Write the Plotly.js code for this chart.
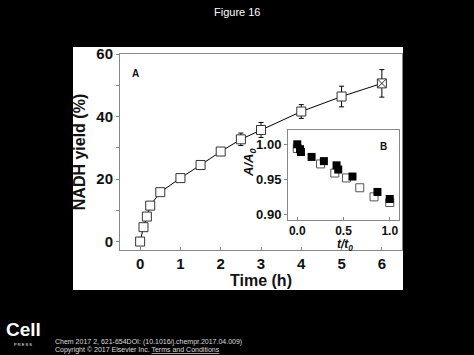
<!DOCTYPE html>
<html><head><meta charset="utf-8">
<script src="https://cdn.plot.ly/plotly-3.0.1.min.js"></script>
<style>html,body{margin:0;padding:0;background:#000;}#chart{width:474px;height:355px;}</style>
</head><body><div id="chart"></div>
<script>
// Main panel A: NADH yield vs time
const timeH   = [0, 0.083, 0.167, 0.25, 0.5, 1, 1.5, 2, 2.5, 3, 4, 5, 6];
const yieldPc = [0, 4.6, 8.0, 11.5, 15.8, 20.3, 24.5, 28.8, 32.7, 35.7, 41.6, 46.4, 50.6];
const yieldErr= [0, 1.0, 1.0, 0.6, 0.6, 0.8, 0.8, 1.0, 2.0, 2.4, 2.2, 3.3, 4.4];
// Inset B: A/A0 vs t/t0
const tFilled = [0.0, 0.03, 0.04, 0.155, 0.288, 0.425, 0.443, 0.597, 0.867, 1.0];
const aFilled = [1.000, 0.993, 0.989, 0.982, 0.976, 0.970, 0.964, 0.954, 0.932, 0.922];
const tOpen   = [0.0, 0.252, 0.406, 0.532, 0.676, 0.83, 1.0];
const aOpen   = [0.994, 0.972, 0.959, 0.952, 0.938, 0.925, 0.917];
const xTicksA = [0, 1, 2, 3, 4, 5, 6];
const yTicksA = [0, 20, 40, 60];
const xTicksB = [0.0, 0.5, 1.0];
const yTicksB = [0.90, 0.95, 1.00];

const FONT = 'Arial, "Liberation Sans", sans-serif';
// plot area pixels: x 120..402, y 54..250
const L = 120, R = 402, T = 54, B = 250;
const px = x => (x - L) / (R - L);
const py = y => (B - y) / (B - T);

const traces = [
  {x: timeH, y: yieldPc, type: 'scatter', mode: 'lines+markers',
   line: {color: '#000', width: 1},
   marker: {symbol: timeH.map((t,i)=> i===timeH.length-1 ? 'square-x' : 'square'),
            size: 9, color: '#fff', line: {width: 1, color: '#333'}},
   error_y: {type: 'data', array: yieldErr, visible: true, color: '#000', thickness: 1, width: 2.5},
   xaxis: 'x', yaxis: 'y', showlegend: false, cliponaxis: false},
  {x: tOpen, y: aOpen, type: 'scatter', mode: 'markers',
   marker: {symbol: 'square', size: 8, color: '#fff', line: {width: 1, color: '#555'}},
   xaxis: 'x2', yaxis: 'y2', showlegend: false, cliponaxis: false},
  {x: tFilled, y: aFilled, type: 'scatter', mode: 'markers',
   marker: {symbol: 'square', size: 8, color: '#000'},
   xaxis: 'x2', yaxis: 'y2', showlegend: false, cliponaxis: false}
];

const axCommon = {showline: true, mirror: true, linecolor: '#888', linewidth: 1,
  ticks: 'outside', ticklen: 3, tickcolor: '#888', showgrid: false, zeroline: false,
  tickfont: {family: FONT, size: 15, color: '#111', weight: 'bold'}};

const layout = {
  width: 474, height: 355,
  paper_bgcolor: '#000', plot_bgcolor: '#fff',
  margin: {l: L, r: 474 - R, t: T, b: 355 - B},
  font: {family: FONT},
  xaxis: Object.assign({}, axCommon, {range: [-0.5, 6.5], tickvals: xTicksA, ticktext: xTicksA.map(String),
    domain: [0, 1], anchor: 'y', ticks: 'inside',
    title: {text: '<b>Time (h)</b>', font: {family: FONT, size: 16, color: '#111'}, standoff: 3}}),
  yaxis: Object.assign({}, axCommon, {range: [-2.7, 60], tickvals: yTicksA, ticktext: yTicksA.map(String),
    domain: [0, 1], anchor: 'x',
    minor: {tickvals: [10, 30, 50], ticks: 'outside', ticklen: 3, tickcolor: '#888'},
    title: {text: '<b>NADH yield (%)</b>', font: {family: FONT, size: 16, color: '#111'}, standoff: 6}}),
  xaxis2: Object.assign({}, axCommon, {range: [-0.1, 1.1], tickvals: xTicksB, ticktext: ['0.0','0.5','1.0'],
    domain: [px(288), px(399)], anchor: 'y2', ticks: 'inside',
    tickfont: {family: FONT, size: 12, color: '#111', weight: 'bold'}}),
  yaxis2: Object.assign({}, axCommon, {range: [0.892, 1.0204], tickvals: yTicksB, ticktext: ['0.90','0.95','1.00'],
    domain: [py(220), py(130)], anchor: 'x2',
    tickfont: {family: FONT, size: 13, color: '#111', weight: 'bold'}}),
  shapes: [
    {type: 'rect', xref: 'paper', yref: 'paper', x0: px(73), x1: px(403), y0: py(290), y1: py(47),
     fillcolor: '#fff', line: {width: 0}, layer: 'below'}
  ],
  annotations: [
    {text: 'Figure 16', xref: 'paper', yref: 'paper', x: px(237), y: py(12), showarrow: false,
     font: {family: FONT, size: 11, color: '#fff'}, xanchor: 'center', yanchor: 'middle'},
    {text: '<b>A</b>', xref: 'paper', yref: 'paper', x: px(135), y: py(73), showarrow: false,
     font: {family: FONT, size: 10, color: '#111'}, xanchor: 'center', yanchor: 'middle'},
    {text: '<b>B</b>', xref: 'paper', yref: 'paper', x: px(383), y: py(146), showarrow: false,
     font: {family: FONT, size: 10, color: '#111'}, xanchor: 'center', yanchor: 'middle'},
    {text: '<b><i>A/A<sub>0</sub></i></b>', xref: 'paper', yref: 'paper', x: px(249), y: py(163), showarrow: false,
     textangle: -90, font: {family: FONT, size: 13, color: '#111'}, xanchor: 'center', yanchor: 'middle'},
    {text: '<b><i>t/t<sub>0</sub></i></b>', xref: 'paper', yref: 'paper', x: px(345), y: py(245), showarrow: false,
     font: {family: FONT, size: 12, color: '#111'}, xanchor: 'center', yanchor: 'middle'},
    {text: '<b>Cell</b>', xref: 'paper', yref: 'paper', x: px(23), y: py(329), showarrow: false,
     font: {family: FONT, size: 19, color: '#fff'}, xanchor: 'center', yanchor: 'middle'},
    {text: 'P R E S S', xref: 'paper', yref: 'paper', x: px(23), y: py(344), showarrow: false,
     font: {family: FONT, size: 4, color: '#fff'}, xanchor: 'center', yanchor: 'middle'},
    {text: 'Chem 2017 2, 621-654DOI: (10.1016/j.chempr.2017.04.009)', xref: 'paper', yref: 'paper',
     x: px(53), y: py(341.5), showarrow: false, font: {family: FONT, size: 7, color: '#ddd'},
     xanchor: 'left', yanchor: 'middle'},
    {text: 'Copyright © 2017 Elsevier Inc. <u>Terms and Conditions</u>', xref: 'paper', yref: 'paper',
     x: px(53), y: py(349.5), showarrow: false, font: {family: FONT, size: 7, color: '#ddd'},
     xanchor: 'left', yanchor: 'middle'}
  ]
};

Plotly.newPlot('chart', traces, layout, {displayModeBar: false, staticPlot: true});
</script></body></html>
